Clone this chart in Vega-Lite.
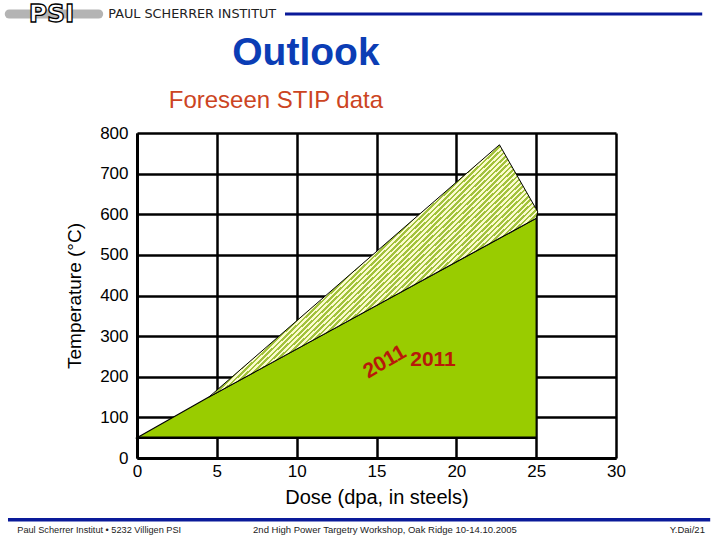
{
  "$schema": "https://vega.github.io/schema/vega-lite/v6.json",
  "width": 479,
  "height": 325,
  "autosize": {"type": "none"},
  "padding": {"left": 137, "top": 133, "right": 104, "bottom": 82},
  "background": "white",
  "config": {"view": {"stroke": null}, "font": "Liberation Sans"},
  "encoding": {
    "x": {
      "field": "x", "type": "quantitative",
      "scale": {"domain": [0, 30], "nice": false, "zero": false},
      "axis": {
        "values": [0, 5, 10, 15, 20, 25, 30],
        "grid": true, "gridColor": "black", "gridWidth": 2.5, "gridOpacity": 1,
        "domainColor": "black", "domainWidth": 3, "ticks": false,
        "labelFont": "Liberation Sans", "labelFontSize": 17, "labelColor": "black",
        "labelPadding": 5, "labelFlush": false, "labelOverlap": false,
        "title": "Dose (dpa, in steels)", "titleFont": "Liberation Sans", "titleFontSize": 20,
        "titleFontWeight": "normal", "titleColor": "black", "titlePadding": 8
      }
    },
    "y": {
      "field": "y", "type": "quantitative",
      "scale": {"domain": [0, 800], "nice": false, "zero": false},
      "axis": {
        "values": [0, 100, 200, 300, 400, 500, 600, 700, 800],
        "grid": true, "gridColor": "black", "gridWidth": 2.5, "gridOpacity": 1,
        "domainColor": "black", "domainWidth": 3, "ticks": false,
        "labelFont": "Liberation Sans", "labelFontSize": 17, "labelColor": "black",
        "labelPadding": 9, "labelFlush": false, "labelOverlap": false,
        "title": "Temperature (°C)", "titleFont": "Liberation Sans", "titleFontSize": 19,
        "titleFontWeight": "normal", "titleColor": "black", "titlePadding": 15
      }
    }
  },
  "layer": [
    {
      "data": {"values": [
        {"x": 0, "y": 50, "y2": 50},
        {"x": 4.5, "y": 150, "y2": 50},
        {"x": 25, "y": 590, "y2": 50}
      ]},
      "mark": {"type": "area", "color": "#99cc00", "stroke": "black", "strokeWidth": 1.2, "opacity": 1},
      "encoding": {"y2": {"field": "y2"}}
    },
    {
      "data": {"values": [
        {"x": 4.5, "y": 150, "y2": 150},
        {"x": 22.7, "y": 771, "y2": 541},
        {"x": 25, "y": 613, "y2": 590},
        {"x": 25.1, "y": 606, "y2": 606}
      ]},
      "mark": {
        "type": "area", "stroke": "black", "strokeWidth": 1, "opacity": 1,
        "color": {
          "gradient": "linear", "x1": 0, "y1": 0, "x2": 1, "y2": 0.8,
          "stops": [
            {"offset": 0.480, "color": "#a2c23c"}, {"offset": 0.485, "color": "#a2c23c"}, {"offset": 0.485, "color": "#fbfbcf"}, {"offset": 0.490, "color": "#fbfbcf"},
            {"offset": 0.490, "color": "#a2c23c"}, {"offset": 0.495, "color": "#a2c23c"}, {"offset": 0.495, "color": "#fbfbcf"}, {"offset": 0.500, "color": "#fbfbcf"},
            {"offset": 0.500, "color": "#a2c23c"}, {"offset": 0.505, "color": "#a2c23c"}, {"offset": 0.505, "color": "#fbfbcf"}, {"offset": 0.510, "color": "#fbfbcf"},
            {"offset": 0.510, "color": "#a2c23c"}, {"offset": 0.515, "color": "#a2c23c"}, {"offset": 0.515, "color": "#fbfbcf"}, {"offset": 0.520, "color": "#fbfbcf"},
            {"offset": 0.520, "color": "#a2c23c"}, {"offset": 0.525, "color": "#a2c23c"}, {"offset": 0.525, "color": "#fbfbcf"}, {"offset": 0.530, "color": "#fbfbcf"},
            {"offset": 0.530, "color": "#a2c23c"}, {"offset": 0.535, "color": "#a2c23c"}, {"offset": 0.535, "color": "#fbfbcf"}, {"offset": 0.540, "color": "#fbfbcf"},
            {"offset": 0.540, "color": "#a2c23c"}, {"offset": 0.545, "color": "#a2c23c"}, {"offset": 0.545, "color": "#fbfbcf"}, {"offset": 0.550, "color": "#fbfbcf"},
            {"offset": 0.550, "color": "#a2c23c"}, {"offset": 0.555, "color": "#a2c23c"}, {"offset": 0.555, "color": "#fbfbcf"}, {"offset": 0.560, "color": "#fbfbcf"},
            {"offset": 0.560, "color": "#a2c23c"}, {"offset": 0.565, "color": "#a2c23c"}, {"offset": 0.565, "color": "#fbfbcf"}, {"offset": 0.570, "color": "#fbfbcf"},
            {"offset": 0.570, "color": "#a2c23c"}, {"offset": 0.575, "color": "#a2c23c"}, {"offset": 0.575, "color": "#fbfbcf"}, {"offset": 0.580, "color": "#fbfbcf"},
            {"offset": 0.580, "color": "#a2c23c"}, {"offset": 0.585, "color": "#a2c23c"}, {"offset": 0.585, "color": "#fbfbcf"}, {"offset": 0.590, "color": "#fbfbcf"},
            {"offset": 0.590, "color": "#a2c23c"}, {"offset": 0.595, "color": "#a2c23c"}, {"offset": 0.595, "color": "#fbfbcf"}, {"offset": 0.600, "color": "#fbfbcf"},
            {"offset": 0.600, "color": "#a2c23c"}, {"offset": 0.605, "color": "#a2c23c"}, {"offset": 0.605, "color": "#fbfbcf"}, {"offset": 0.610, "color": "#fbfbcf"},
            {"offset": 0.610, "color": "#a2c23c"}, {"offset": 0.615, "color": "#a2c23c"}, {"offset": 0.615, "color": "#fbfbcf"}, {"offset": 0.620, "color": "#fbfbcf"},
            {"offset": 0.620, "color": "#a2c23c"}, {"offset": 0.625, "color": "#a2c23c"}, {"offset": 0.625, "color": "#fbfbcf"}, {"offset": 0.630, "color": "#fbfbcf"},
            {"offset": 0.630, "color": "#a2c23c"}, {"offset": 0.635, "color": "#a2c23c"}, {"offset": 0.635, "color": "#fbfbcf"}, {"offset": 0.640, "color": "#fbfbcf"},
            {"offset": 0.640, "color": "#a2c23c"}, {"offset": 0.645, "color": "#a2c23c"}, {"offset": 0.645, "color": "#fbfbcf"}, {"offset": 0.650, "color": "#fbfbcf"},
            {"offset": 0.650, "color": "#a2c23c"}, {"offset": 0.655, "color": "#a2c23c"}, {"offset": 0.655, "color": "#fbfbcf"}, {"offset": 0.660, "color": "#fbfbcf"},
            {"offset": 0.660, "color": "#a2c23c"}, {"offset": 0.665, "color": "#a2c23c"}, {"offset": 0.665, "color": "#fbfbcf"}, {"offset": 0.670, "color": "#fbfbcf"},
            {"offset": 0.670, "color": "#a2c23c"}, {"offset": 0.675, "color": "#a2c23c"}, {"offset": 0.675, "color": "#fbfbcf"}, {"offset": 0.680, "color": "#fbfbcf"},
            {"offset": 0.680, "color": "#a2c23c"}, {"offset": 0.685, "color": "#a2c23c"}, {"offset": 0.685, "color": "#fbfbcf"}, {"offset": 0.690, "color": "#fbfbcf"},
            {"offset": 0.690, "color": "#a2c23c"}, {"offset": 0.695, "color": "#a2c23c"}, {"offset": 0.695, "color": "#fbfbcf"}, {"offset": 0.700, "color": "#fbfbcf"},
            {"offset": 0.700, "color": "#a2c23c"}, {"offset": 0.705, "color": "#a2c23c"}, {"offset": 0.705, "color": "#fbfbcf"}, {"offset": 0.710, "color": "#fbfbcf"},
            {"offset": 0.710, "color": "#a2c23c"}, {"offset": 0.715, "color": "#a2c23c"}, {"offset": 0.715, "color": "#fbfbcf"}, {"offset": 0.720, "color": "#fbfbcf"},
            {"offset": 0.720, "color": "#a2c23c"}, {"offset": 0.725, "color": "#a2c23c"}, {"offset": 0.725, "color": "#fbfbcf"}, {"offset": 0.730, "color": "#fbfbcf"},
            {"offset": 0.730, "color": "#a2c23c"}, {"offset": 0.735, "color": "#a2c23c"}, {"offset": 0.735, "color": "#fbfbcf"}, {"offset": 0.740, "color": "#fbfbcf"},
            {"offset": 0.740, "color": "#a2c23c"}, {"offset": 0.745, "color": "#a2c23c"}, {"offset": 0.745, "color": "#fbfbcf"}, {"offset": 0.750, "color": "#fbfbcf"}
          ]
        }
      },
      "encoding": {"y2": {"field": "y2"}}
    },
    {
      "data": {"values": [{"x": 0, "x2": 25, "y": 50}]},
      "mark": {"type": "rule", "color": "black", "strokeWidth": 2.5},
      "encoding": {"x2": {"field": "x2"}}
    },
    {
      "data": {"values": [{"x": 15.53, "y": 236, "label": "2011"}]},
      "mark": {"type": "text", "color": "#b8190a", "font": "Liberation Sans", "fontSize": 21, "fontWeight": "bold", "angle": -30, "align": "center", "baseline": "middle"},
      "encoding": {"text": {"field": "label"}}
    },
    {
      "data": {"values": [{"x": 18.54, "y": 241, "label": "2011"}]},
      "mark": {"type": "text", "color": "#b8190a", "font": "Liberation Sans", "fontSize": 21, "fontWeight": "bold", "align": "center", "baseline": "middle"},
      "encoding": {"text": {"field": "label"}}
    },
    {
      "data": {"values": [{"x": -8.0, "x2": -2.4, "y": 1093}]},
      "mark": {"type": "rule", "color": "#b4b4b4", "strokeWidth": 9, "strokeCap": "round"},
      "encoding": {"x2": {"field": "x2"}}
    },
    {
      "data": {"values": [{"x": -5.35, "y": 1093, "label": "PSI"}]},
      "mark": {"type": "text", "font": "DejaVu Sans", "fontSize": 25, "fontWeight": "bold", "fill": "white", "stroke": "black", "strokeWidth": 1.3, "align": "center", "baseline": "middle"},
      "encoding": {"text": {"field": "label"}}
    },
    {
      "data": {"values": [{"x": -1.8, "y": 1093, "label": "PAUL SCHERRER INSTITUT"}]},
      "mark": {"type": "text", "font": "DejaVu Sans", "fontSize": 12.8, "color": "#222222", "align": "left", "baseline": "middle"},
      "encoding": {"text": {"field": "label"}}
    },
    {
      "data": {"values": [{"x": 9.27, "x2": 35.4, "y": 1093}]},
      "mark": {"type": "rule", "color": "#0a1a99", "strokeWidth": 3},
      "encoding": {"x2": {"field": "x2"}}
    },
    {
      "data": {"values": [{"x": 10.58, "y": 967, "label": "Outlook"}]},
      "mark": {"type": "text", "font": "Liberation Sans", "fontSize": 39, "fontWeight": "bold", "color": "#0b3db5", "align": "center", "baseline": "alphabetic"},
      "encoding": {"text": {"field": "label"}}
    },
    {
      "data": {"values": [{"x": 8.7, "y": 861, "label": "Foreseen STIP data"}]},
      "mark": {"type": "text", "font": "Liberation Sans", "fontSize": 24, "color": "#cc4422", "align": "center", "baseline": "alphabetic"},
      "encoding": {"text": {"field": "label"}}
    },
    {
      "data": {"values": [{"x": -8.08, "x2": 35.9, "y": -152}]},
      "mark": {"type": "rule", "color": "#0a1a99", "strokeWidth": 3.5},
      "encoding": {"x2": {"field": "x2"}}
    },
    {
      "data": {"values": [{"x": -7.5, "y": -177, "label": "Paul Scherrer Institut • 5232 Villigen PSI"}]},
      "mark": {"type": "text", "font": "Liberation Sans", "fontSize": 9.2, "color": "#222222", "align": "left", "baseline": "middle"},
      "encoding": {"text": {"field": "label"}}
    },
    {
      "data": {"values": [{"x": 7.27, "y": -177, "label": "2nd High Power Targetry Workshop, Oak Ridge 10-14.10.2005"}]},
      "mark": {"type": "text", "font": "Liberation Sans", "fontSize": 9.5, "color": "#222222", "align": "left", "baseline": "middle"},
      "encoding": {"text": {"field": "label"}}
    },
    {
      "data": {"values": [{"x": 35.57, "y": -177, "label": "Y.Dai/21"}]},
      "mark": {"type": "text", "font": "Liberation Sans", "fontSize": 9.5, "color": "#222222", "align": "right", "baseline": "middle"},
      "encoding": {"text": {"field": "label"}}
    }
  ]
}
